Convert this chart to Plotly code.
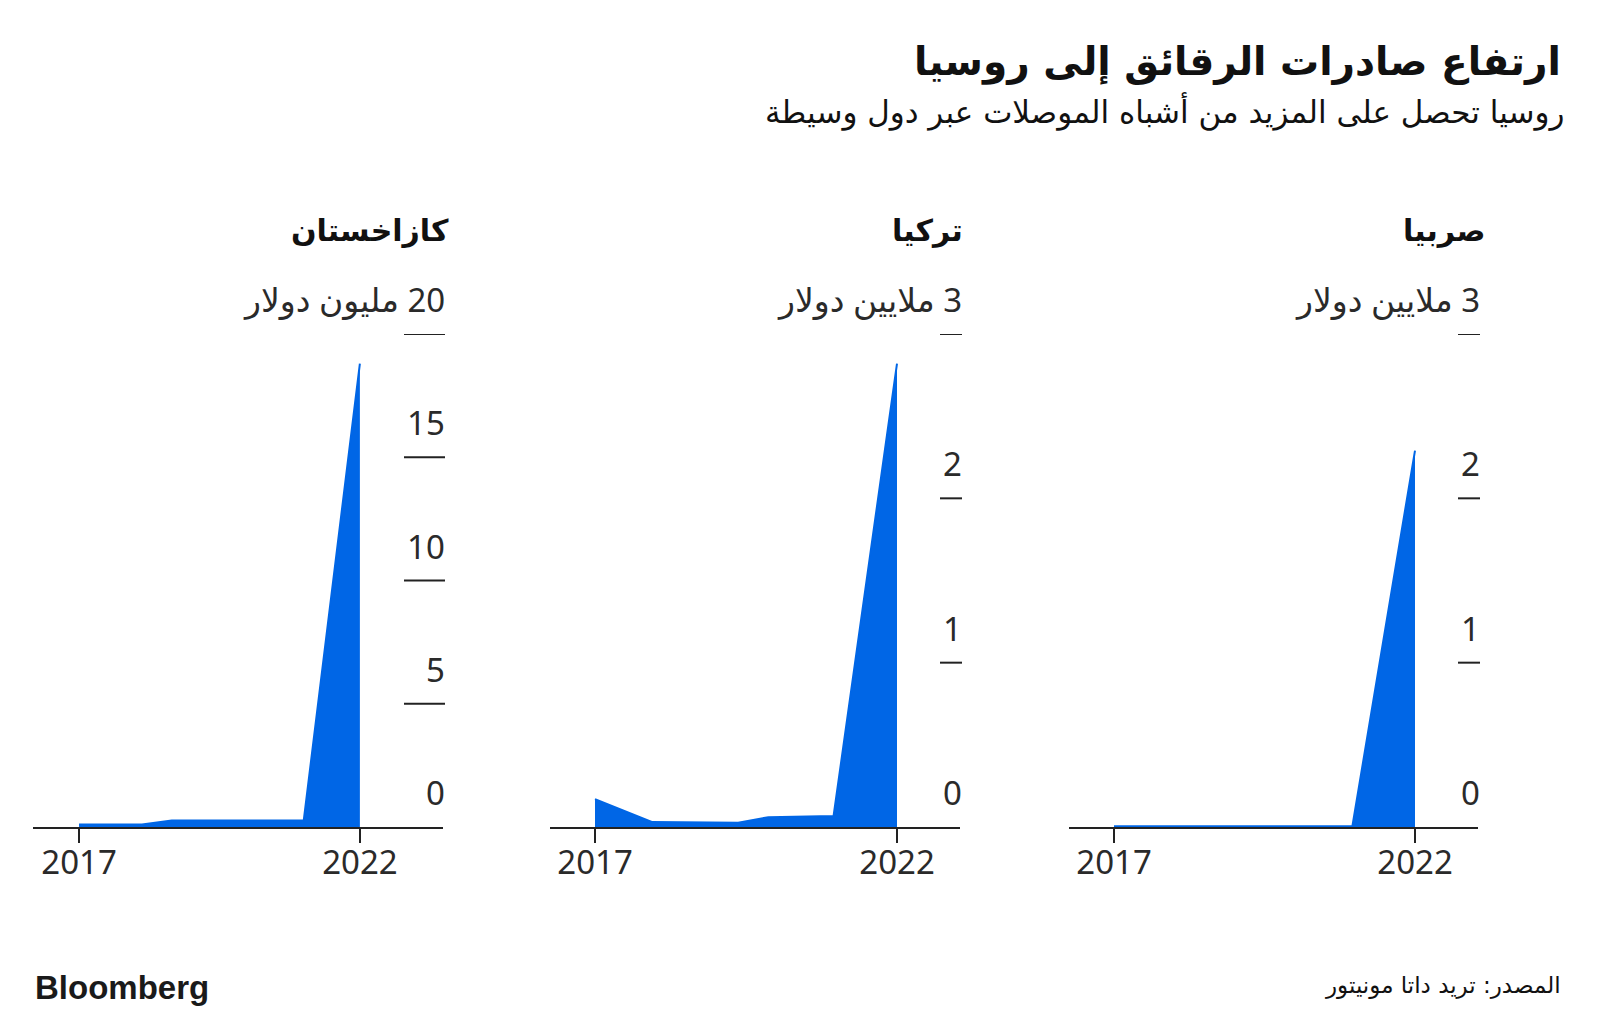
import plotly.graph_objects as go

# ---------------- data ----------------
title = "ارتفاع صادرات الرقائق إلى روسيا"
subtitle = "روسيا تحصل على المزيد من أشباه الموصلات عبر دول وسيطة"
source = "المصدر: تريد داتا مونيتور"
brand = "Bloomberg"

panel_names = ["كازاخستان", "تركيا", "صربيا"]
unit_labels = ["مليون دولار", "ملايين دولار", "ملايين دولار"]

kaz_years = [2017, 2018.12, 2018.65, 2021, 2022]
kaz_values = [0.1, 0.1, 0.26, 0.26, 18.8]

tur_years = [2017, 2017.95, 2019.37, 2019.87, 2020.95, 2022]
tur_values = [0.17, 0.03, 0.026, 0.06, 0.067, 2.82]

srb_years = [2017, 2020.96, 2022]
srb_values = [0.005, 0.005, 2.29]

kaz_ticks = [0, 5, 10, 15, 20]
tur_ticks = [0, 1, 2, 3]
srb_ticks = [0, 1, 2, 3]
x_ticks = [2017, 2022]

# ---------------- layout / style ----------------
W, H = 1600, 1018
BLUE = "#0066E6"
INK = "#111111"
AXIS = "#222222"
DIGIT_FONT = "Noto Sans, DejaVu Sans, sans-serif"
AR_FONT = "DejaVu Sans, sans-serif"


def fx(px):
    return px / W


def fy(px):
    return 1 - px / H


y_dom = [fy(827), fy(334)]

panels = [
    dict(name=panel_names[0], unit=unit_labels[0], x=kaz_years, y=kaz_values,
         ticks=kaz_ticks, dom=(33, 443), xr=[2016.18, 2023.48], tick_w=41,
         title_right=451),
    dict(name=panel_names[1], unit=unit_labels[1], x=tur_years, y=tur_values,
         ticks=tur_ticks, dom=(550, 960), xr=[2016.255, 2023.043], tick_w=22,
         title_right=965),
    dict(name=panel_names[2], unit=unit_labels[2], x=srb_years, y=srb_values,
         ticks=srb_ticks, dom=(1069, 1478), xr=[2016.2525, 2023.0465], tick_w=22,
         title_right=1487),
]

fig = go.Figure()
annotations = []
shapes = []

for i, p in enumerate(panels, start=1):
    xa = "x" if i == 1 else f"x{i}"
    ya = "y" if i == 1 else f"y{i}"
    fig.add_trace(go.Scatter(
        x=p["x"], y=p["y"], mode="lines", fill="tozeroy",
        line=dict(color=BLUE, width=2), fillcolor=BLUE,
        xaxis=xa, yaxis=ya, hoverinfo="x+y", showlegend=False,
    ))
    x0, x1 = p["dom"]
    xkey = "xaxis" if i == 1 else f"xaxis{i}"
    ykey = "yaxis" if i == 1 else f"yaxis{i}"
    fig.update_layout(**{
        xkey: dict(domain=[fx(x0), fx(x1)], range=p["xr"], anchor=ya,
                   showgrid=False, zeroline=False, showline=True,
                   linecolor=AXIS, linewidth=2, ticks="outside", ticklen=14,
                   tickwidth=2, tickcolor=AXIS, tickvals=x_ticks,
                   ticktext=[str(t) for t in x_ticks], ticklabelstandoff=-9,
                   tickfont=dict(family=DIGIT_FONT, size=33, color="#2a2a2a"),
                   layer="below traces", fixedrange=True),
        ykey: dict(domain=y_dom, range=[0, p["ticks"][-1]], anchor=xa,
                   visible=False, fixedrange=True),
    })
    right_px = x1 + 2
    for t in p["ticks"]:
        if t != 0:
            shapes.append(dict(type="line", xref="paper", yref=ya,
                               x0=fx(right_px - p["tick_w"]), x1=fx(right_px),
                               y0=t, y1=t, line=dict(color=AXIS, width=2)))
        label = str(t)
        if t == p["ticks"][-1]:
            label = p["unit"] + "\u200e " + str(t)
        annotations.append(dict(
            xref="paper", yref=ya, x=fx(right_px), y=t, xanchor="right",
            yanchor="bottom", yshift=10, xshift=2, showarrow=False, text=label,
            font=dict(family=DIGIT_FONT, size=33, color="#2a2a2a")))
    annotations.append(dict(
        xref="paper", yref="paper", x=fx(p["title_right"]), y=fy(230),
        xanchor="right", yanchor="middle", showarrow=False,
        text="<b>" + p["name"] + "</b>",
        font=dict(family=AR_FONT, size=30, color=INK)))

annotations += [
    dict(xref="paper", yref="paper", x=fx(1563), y=fy(62), xanchor="right",
         yanchor="middle", showarrow=False, text="<b>" + title + "</b>",
         font=dict(family=AR_FONT, size=39, color=INK)),
    dict(xref="paper", yref="paper", x=fx(1566), y=fy(112), xanchor="right",
         yanchor="middle", showarrow=False, text=subtitle,
         font=dict(family=AR_FONT, size=31, color=INK)),
    dict(xref="paper", yref="paper", x=fx(33), y=fy(987), xanchor="left",
         yanchor="middle", showarrow=False, text="<b>" + brand + "</b>",
         font=dict(family="Liberation Sans, Arial, sans-serif", size=33,
                   color="#1a1a1a")),
    dict(xref="paper", yref="paper", x=fx(1563), y=fy(985), xanchor="right",
         yanchor="middle", showarrow=False, text=source,
         font=dict(family=AR_FONT, size=23, color=INK)),
]

fig.update_layout(
    width=W, height=H, margin=dict(l=0, r=0, t=0, b=0, pad=0),
    paper_bgcolor="white", plot_bgcolor="white",
    annotations=annotations, shapes=shapes, showlegend=False,
)

fig.write_html("out.html", config={"displayModeBar": False})
